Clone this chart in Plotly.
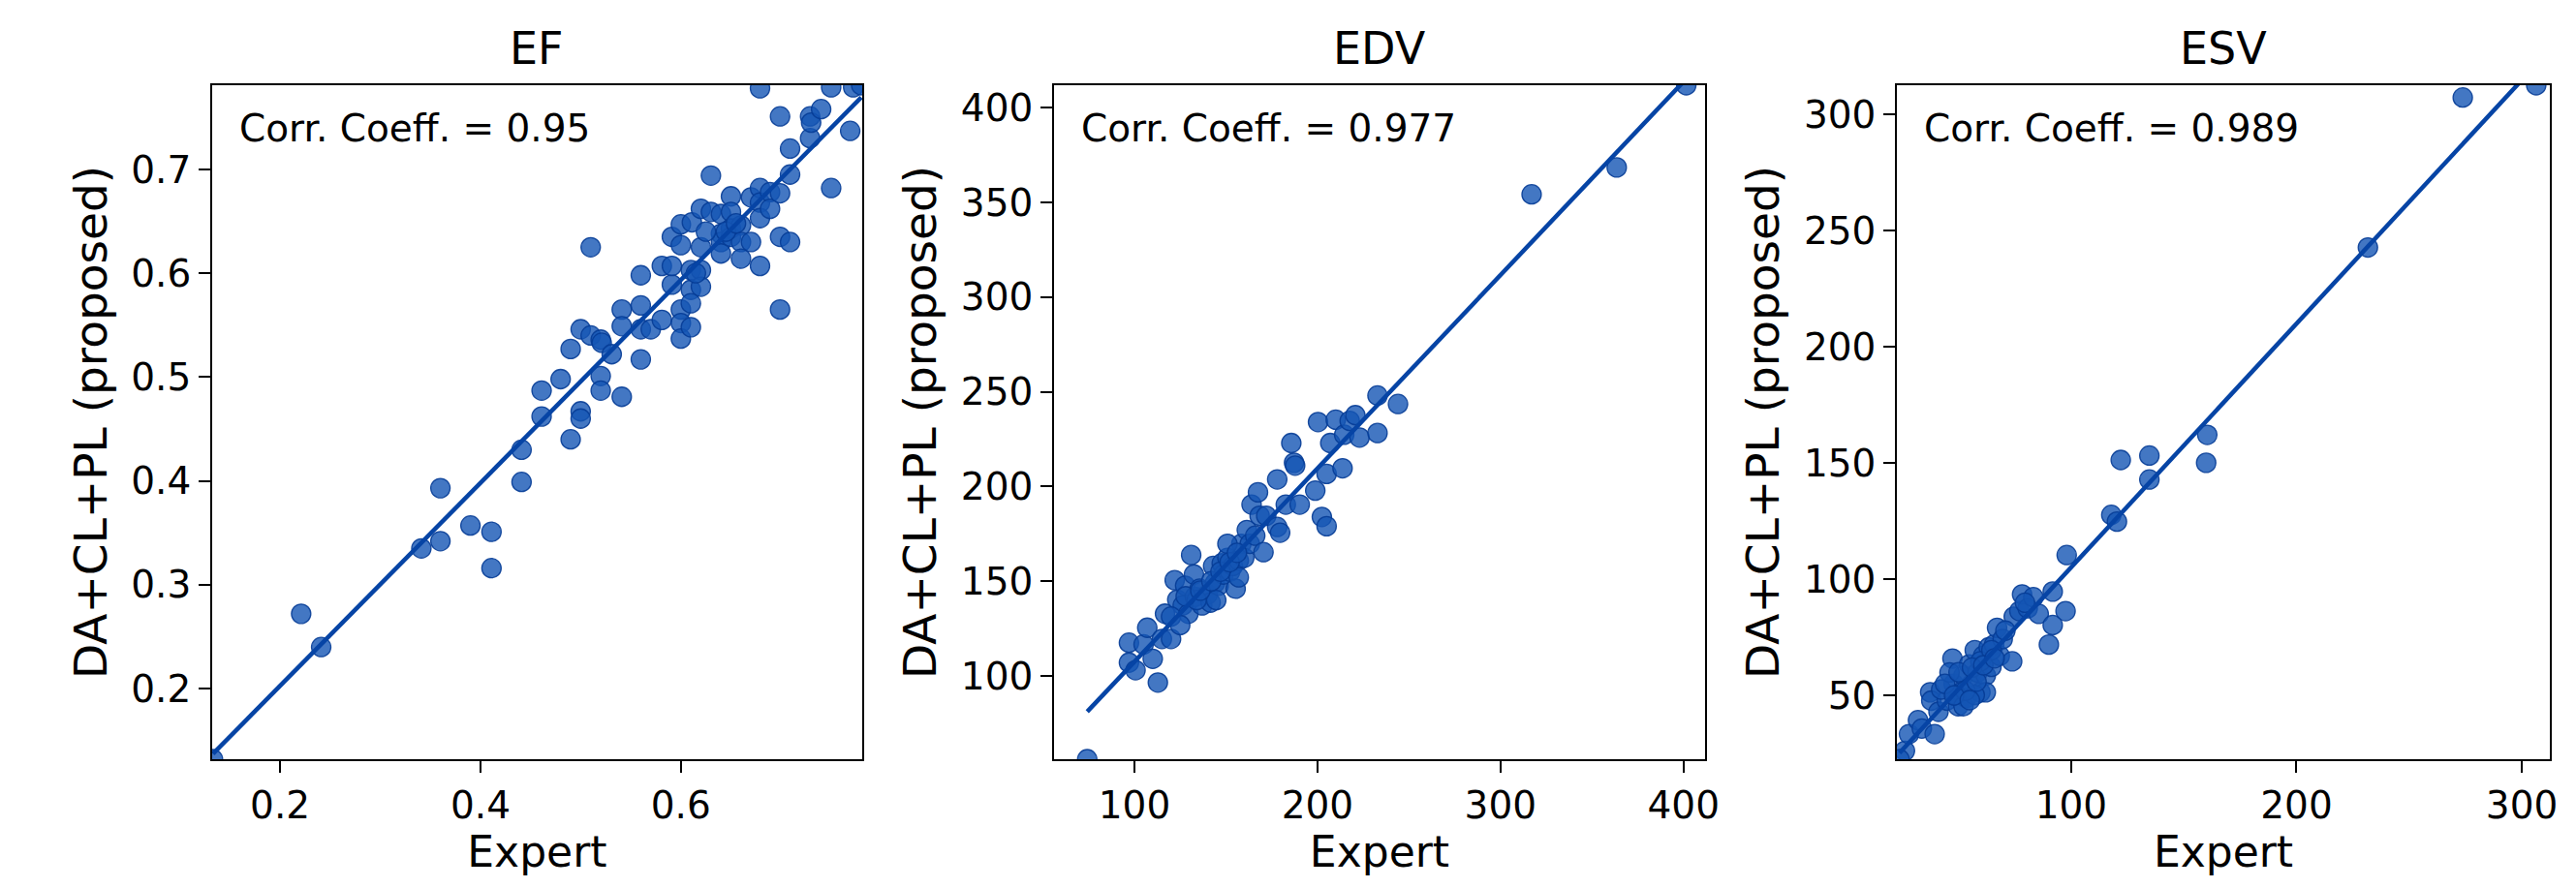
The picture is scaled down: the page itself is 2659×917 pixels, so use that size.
import numpy as np
import plotly.graph_objects as go

# ---------------- data ----------------
titles = ["EF", "EDV", "ESV"]
corr_labels = ["Corr. Coeff. = 0.95", "Corr. Coeff. = 0.977", "Corr. Coeff. = 0.989"]

ef_expert = [0.133, 0.221, 0.241, 0.341, 0.360, 0.360, 0.390, 0.411, 0.411, 0.441, 0.441, 0.461, 0.461,
             0.480, 0.490, 0.490, 0.500, 0.500, 0.500, 0.510, 0.510, 0.520, 0.520, 0.520, 0.521, 0.531,
             0.541, 0.541, 0.541, 0.560, 0.560, 0.560, 0.560, 0.570, 0.581, 0.581, 0.591, 0.591, 0.591,
             0.600, 0.600, 0.600, 0.600, 0.600, 0.610, 0.610, 0.610, 0.610, 0.611, 0.620, 0.620, 0.620,
             0.620, 0.630, 0.630, 0.640, 0.640, 0.640, 0.640, 0.650, 0.650, 0.650, 0.650, 0.660, 0.660,
             0.660, 0.670, 0.670, 0.679, 0.679, 0.679, 0.679, 0.679, 0.689, 0.689, 0.699, 0.699, 0.699,
             0.699, 0.709, 0.709, 0.709, 0.729, 0.729, 0.730, 0.740, 0.750, 0.750, 0.769, 0.772, 0.780,
             0.645, 0.655, 0.625, 0.615]
ef_model = [0.132, 0.272, 0.240, 0.335, 0.393, 0.342, 0.357, 0.351, 0.316, 0.430, 0.399, 0.487, 0.462,
            0.498, 0.527, 0.440, 0.467, 0.460, 0.546, 0.625, 0.540, 0.536, 0.501, 0.487, 0.533, 0.522,
            0.565, 0.549, 0.481, 0.598, 0.569, 0.546, 0.517, 0.546, 0.607, 0.555, 0.635, 0.589, 0.607,
            0.647, 0.627, 0.565, 0.552, 0.537, 0.603, 0.584, 0.571, 0.548, 0.649, 0.603, 0.625, 0.587,
            0.662, 0.694, 0.659, 0.638, 0.630, 0.619, 0.657, 0.674, 0.659, 0.643, 0.635, 0.646, 0.630,
            0.614, 0.673, 0.630, 0.778, 0.682, 0.668, 0.653, 0.607, 0.678, 0.662, 0.751, 0.635, 0.565,
            0.677, 0.720, 0.695, 0.630, 0.751, 0.730, 0.745, 0.758, 0.779, 0.682, 0.737, 0.779, 0.781,
            0.640, 0.648, 0.640, 0.600]

edv_expert = [74.2, 97, 97, 100.6, 105, 107, 112.8, 110, 115, 116.7, 120, 122, 123.4, 126.4, 127.7,
              129.5, 131, 132.5, 133, 135.6, 137, 140, 141.6, 143, 144, 146, 147.7, 148.6, 150.8, 152.3,
              153.8, 155.3, 157, 158.4, 160, 161.4, 163, 164, 166, 167.5, 168.4, 170.5, 172, 178, 178,
              179.6, 182.7, 185.7, 187.2, 187.8, 190.3, 198.8, 200.3, 202.4, 205, 205, 207, 210, 213.7,
              214.6, 217.6, 220.7, 223, 232.8, 232.8, 244, 317, 363.5, 401.5,
              120, 125, 134, 144.7, 157, 150.8, 128, 136, 142, 147, 152, 156]
edv_model = [56, 117.5, 107, 103, 116.6, 125.4, 96.5, 109, 119.5, 132.8, 119.5, 150.5, 140.2, 137.2,
             147.6, 132.8, 163.8, 153.5, 141.7, 146, 137.2, 143, 138.7, 158, 149, 147.6, 159.4, 153.5,
             162.3, 155, 158, 146, 160.9, 169.7, 162.3, 177, 169.7, 190.4, 174, 196.9, 184.5, 165.3,
             184.5, 203.7, 178.6, 175.6, 190.4, 222.9, 212.5, 211, 190.4, 197.8, 234, 183.9, 179, 206.6,
             222.9, 235.2, 209.6, 227.3, 234.6, 237.6, 225.8, 248, 228.2, 243.5, 354.2, 368.4, 411.8,
             131.3, 126.8, 140, 140, 152, 169.7, 142, 145, 150, 155, 160, 165]

esv_expert = [26.2, 23.8, 28, 32, 33.7, 37.4, 37.9, 39.4, 41.1, 44.8, 47.3, 47.8, 49.8, 51, 52.2, 53.5,
              54.7, 55.9, 57.2, 58.4, 59.7, 60.9, 62.1, 63.4, 62.1, 64.6, 65.8, 67.1, 68.3, 69.6, 73.8,
              74.5, 77, 78.2, 80.7, 83.2, 85.6, 90.1, 91.8, 91.8, 97.5, 98, 117.8, 120.3, 122, 134.7,
              134.7, 159.9, 160.4, 231.7, 273.8, 306.4,
              42.3, 46, 48.5, 52.2, 57.2, 59.7, 64.6, 70.8, 79.5,
              44, 50, 53, 56, 58, 61, 48, 55, 66]
esv_model = [26.2, 22.6, 33.4, 39.4, 35.8, 51.4, 47.8, 33.4, 43, 47.8, 65.9, 55, 45.4, 51.4, 58.6, 49,
             63.4, 55, 69.5, 59.9, 51.4, 67.1, 58.6, 70.7, 51.4, 62.3, 71.9, 79.1, 67.1, 74.3, 64.7,
             83.9, 86.3, 93.5, 87.5, 92.3, 85.1, 71.9, 94.7, 80.3, 86.3, 110.4, 127.7, 124.8, 151.3,
             153.2, 142.9, 150.1, 162.1, 242.7, 307.2, 312.5,
             52.6, 59.9, 50.2, 45.4, 50.2, 64.7, 69.5, 77.9, 89.9,
             55, 60, 52, 62, 56, 63, 50, 48, 66]

x_tick_steps = [0.2, 100, 100]
y_tick_steps = [0.1, 50, 50]

series = [(ef_expert, ef_model), (edv_expert, edv_model), (esv_expert, esv_model)]

# ---------------- style ----------------
W, H = 2659, 917
FONT = "DejaVu Sans"
LINE_COLOR = "rgb(6,68,165)"
PT_COLOR = "rgba(20,85,180,0.8)"
PT_EDGE = "rgba(6,60,150,0.9)"

x_domains = [[212 / W, 887 / W], [1086 / W, 1762 / W], [1961 / W, 2639 / W]]
y_domain = [1 - 776 / H, 1 - 80 / H]

fig = go.Figure()
layout = dict(
    width=W, height=H,
    margin=dict(l=0, r=0, t=0, b=0),
    paper_bgcolor="white", plot_bgcolor="white",
    showlegend=False,
    font=dict(family=FONT, color="black", size=39),
    annotations=[],
)

for i, (xs, ys) in enumerate(series):
    xa = "x" if i == 0 else f"x{i+1}"
    ya = "y" if i == 0 else f"y{i+1}"
    xs_a = np.array(xs, dtype=float)
    ys_a = np.array(ys, dtype=float)
    lo = float(min(xs_a.min(), ys_a.min()))
    hi = float(max(xs_a.max(), ys_a.max()))

    fig.add_trace(go.Scatter(
        x=xs, y=ys, mode="markers", xaxis=xa, yaxis=ya,
        marker=dict(size=20, color=PT_COLOR, line=dict(color=PT_EDGE, width=1.3)),
        cliponaxis=True,
    ))
    slope, intercept = np.polyfit(xs_a, ys_a, 1)
    lx = np.linspace(xs_a.min(), xs_a.max(), 50)
    fig.add_trace(go.Scatter(
        x=lx, y=slope * lx + intercept, mode="lines", xaxis=xa, yaxis=ya,
        line=dict(color=LINE_COLOR, width=4.5),
    ))

    axis_common = dict(
        showgrid=False, zeroline=False, showline=True, mirror=True,
        linecolor="black", linewidth=1.6, ticks="outside", ticklen=12,
        tickwidth=1.6, tickcolor="black", tickfont=dict(family=FONT, size=39, color="black"),
        range=[lo, hi],
    )
    layout["xaxis" if i == 0 else f"xaxis{i+1}"] = dict(
        axis_common, domain=x_domains[i], anchor=ya, dtick=x_tick_steps[i], tick0=0,
        title=dict(text="Expert", font=dict(family=FONT, size=44), standoff=6),
    )
    layout["yaxis" if i == 0 else f"yaxis{i+1}"] = dict(
        axis_common, domain=y_domain, anchor=xa, dtick=y_tick_steps[i], tick0=0,
        title=dict(text="DA+CL+PL (proposed)", font=dict(family=FONT, size=47), standoff=10),
    )
    cx = (x_domains[i][0] + x_domains[i][1]) / 2
    layout["annotations"].append(dict(
        text=titles[i], xref="paper", yref="paper", x=cx, y=1 - 42 / H,
        xanchor="center", yanchor="middle", showarrow=False,
        font=dict(family=FONT, size=46, color="black"),
    ))
    layout["annotations"].append(dict(
        text=corr_labels[i], xref="paper", yref="paper", x=x_domains[i][0] + 26 / W, y=1 - 124 / H,
        xanchor="left", yanchor="middle", showarrow=False,
        font=dict(family=FONT, size=39, color="black"),
    ))

fig.update_layout(**layout)
fig.write_html("out.html")
